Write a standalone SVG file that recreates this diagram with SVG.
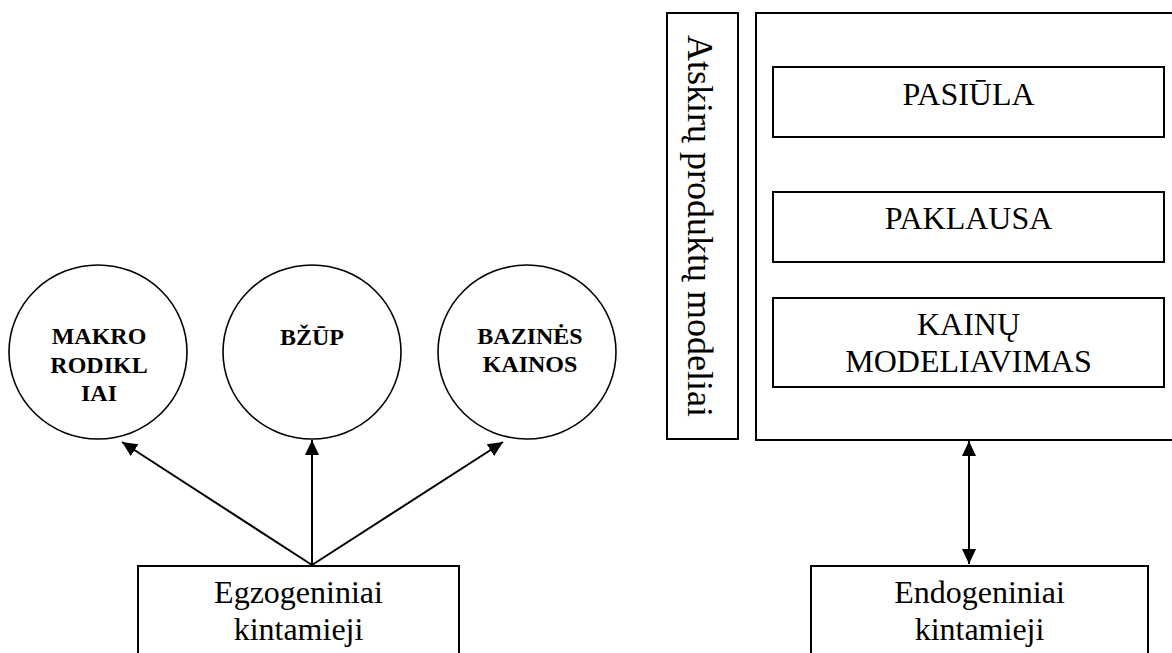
<svg xmlns="http://www.w3.org/2000/svg" width="1172" height="653" viewBox="0 0 1172 653">
<style>
  .box { fill: #fff; stroke: #000; stroke-width: 2; }
  .circ { fill: #fff; stroke: #000; stroke-width: 1.6; }
  .t { font-family: "Liberation Serif", "Times New Roman", serif; font-size: 32px; fill: #000; text-anchor: middle; }
  .tb { font-family: "Liberation Serif", "Times New Roman", serif; font-size: 24px; font-weight: bold; fill: #000; text-anchor: middle; }
  .conn { stroke: #000; stroke-width: 2; fill: none; }
</style>
<defs>
  <marker id="ah" markerUnits="userSpaceOnUse" markerWidth="16" markerHeight="14" refX="15" refY="7" orient="auto-start-reverse">
    <path d="M0,0 L15,7 L0,14 Z" fill="#000"/>
  </marker>
</defs>
<rect width="1172" height="653" fill="#fff"/>

<g id="makro">
  <ellipse class="circ" cx="98" cy="352" rx="89" ry="87"/>
  <text class="tb" x="99" y="344">MAKRO</text>
  <text class="tb" x="99" y="373">RODIKL</text>
  <text class="tb" x="99" y="401">IAI</text>
</g>
<g id="bzup">
  <ellipse class="circ" cx="312" cy="352" rx="89" ry="87"/>
  <text class="tb" x="312" y="345">BŽŪP</text>
</g>
<g id="bazines">
  <ellipse class="circ" cx="527" cy="352" rx="89" ry="87"/>
  <text class="tb" x="530" y="344">BAZINĖS</text>
  <text class="tb" x="530" y="372">KAINOS</text>
</g>
<g id="egzo">
  <rect class="box" x="138" y="566" width="321" height="100"/>
  <text class="t" x="298.5" y="603">Egzogeniniai</text>
  <text class="t" x="298.5" y="640">kintamieji</text>
</g>

<g id="atskiru">
  <rect class="box" x="667" y="13" width="71" height="426"/>
  <text class="t" font-size="36" style="font-size:36px" transform="translate(688,226) rotate(90)" x="0" y="0">Atskirų produktų modeliai</text>
</g>
<g id="modeliai">
  <rect class="box" x="756" y="13" width="430" height="427"/>
</g>
<g id="pasiula">
  <rect class="box" x="773" y="67" width="391" height="70"/>
  <text class="t" x="968.5" y="105">PASIŪLA</text>
</g>
<g id="paklausa">
  <rect class="box" x="773" y="192" width="391" height="70"/>
  <text class="t" x="968.5" y="229">PAKLAUSA</text>
</g>
<g id="kainu">
  <rect class="box" x="773" y="298" width="391" height="89"/>
  <text class="t" x="968.5" y="335">KAINŲ</text>
  <text class="t" x="968.5" y="372">MODELIAVIMAS</text>
</g>
<g id="endo">
  <rect class="box" x="811" y="566" width="337" height="100"/>
  <text class="t" x="979.5" y="603">Endogeniniai</text>
  <text class="t" x="979.5" y="640">kintamieji</text>
</g>

<g id="connectors">
  <line class="conn" x1="312" y1="565" x2="122" y2="442" marker-end="url(#ah)"/>
  <line class="conn" x1="312" y1="565" x2="312" y2="440" marker-end="url(#ah)"/>
  <line class="conn" x1="312" y1="565" x2="503" y2="442" marker-end="url(#ah)"/>
  <line class="conn" x1="969" y1="441" x2="969" y2="564" marker-start="url(#ah)" marker-end="url(#ah)"/>
</g>
</svg>
